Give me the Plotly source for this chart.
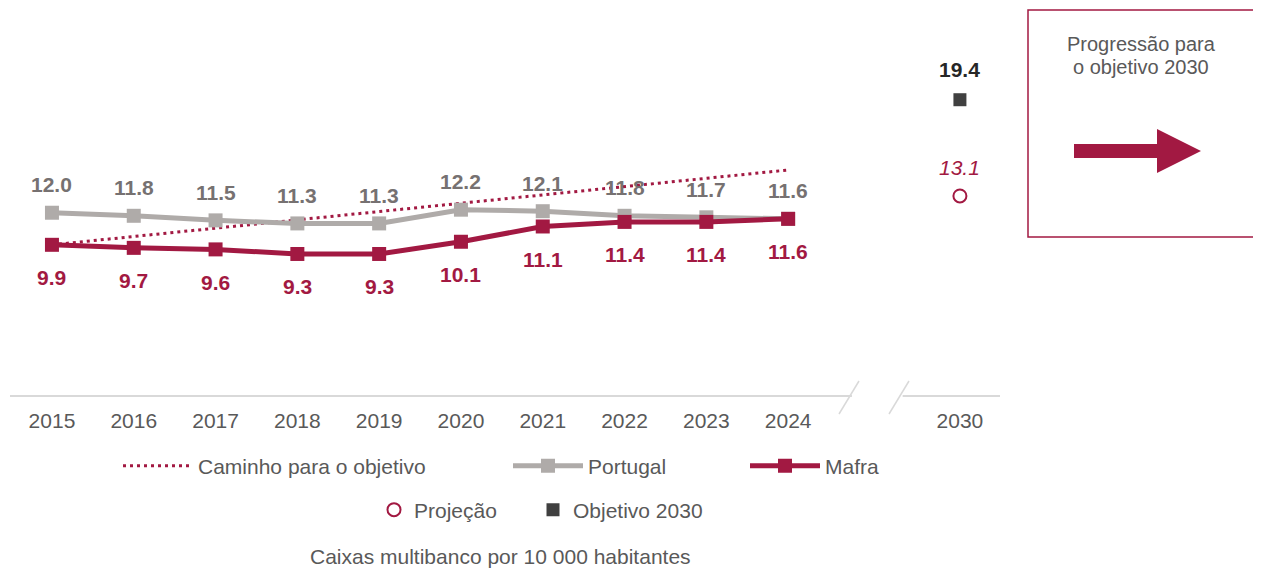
import plotly.graph_objects as go

# data
years = [2015, 2016, 2017, 2018, 2019, 2020, 2021, 2022, 2023, 2024]
portugal = [12.0, 11.8, 11.5, 11.3, 11.3, 12.2, 12.1, 11.8, 11.7, 11.6]
mafra = [9.9, 9.7, 9.6, 9.3, 9.3, 10.1, 11.1, 11.4, 11.4, 11.6]
path_years = [2015, 2024]
path_values = [9.9, 14.8]
target_year = 2030
projection = [13.1]
objective = [19.4]

CRIMSON = "#A21942"
GREY = "#AFABA9"
GREY_TXT = "#767171"
DARK = "#404040"
TXT = "#595959"
AXIS = "#D9D9D9"
FONT = "Liberation Sans, Arial, sans-serif"

# x position of each year on the (broken) axis
pos = {y: i for i, y in enumerate(years)}
pos[target_year] = 11.1
X0, X1 = -0.513, 11.59
Y0, Y1 = 0, 24.62

# the page body adds an 8px margin, so the figure is shrunk by that much
OFF = 8
W, H = 1261 - OFF, 571 - OFF
L, R, T, B = 2, 261, 12, 175


def px_x(p):
    return (p - OFF - L) / (W - L - R)


def px_y(p):
    return (H - B - (p - OFF)) / (H - T - B)


def dx(v):
    return (v - X0) / (X1 - X0)


fig = go.Figure()

fig.add_trace(go.Scatter(
    x=[pos[y] for y in path_years], y=path_values, mode="lines",
    name="Caminho para o objetivo",
    line=dict(color=CRIMSON, width=3, dash="3px,4px"),
    legend="legend", hoverinfo="skip"))

fig.add_trace(go.Scatter(
    x=[pos[y] for y in years], y=portugal, mode="lines+markers",
    name="Portugal",
    line=dict(color=GREY, width=5),
    marker=dict(symbol="square", size=14, color=GREY),
    legend="legend2"))

fig.add_trace(go.Scatter(
    x=[pos[y] for y in years], y=mafra, mode="lines+markers",
    name="Mafra",
    line=dict(color=CRIMSON, width=5),
    marker=dict(symbol="square", size=14, color=CRIMSON),
    legend="legend3"))

fig.add_trace(go.Scatter(
    x=[pos[target_year]], y=projection, mode="markers",
    name="Projeção",
    marker=dict(symbol="circle-open", size=13, color=CRIMSON, line=dict(width=2)),
    legend="legend4"))

fig.add_trace(go.Scatter(
    x=[pos[target_year]], y=objective, mode="markers",
    name="Objetivo 2030",
    marker=dict(symbol="square", size=13, color=DARK),
    legend="legend5"))

# data labels
ann = []
for y, v in zip(years, portugal):
    ann.append(dict(x=pos[y], y=v, text=f"{v:.1f}", showarrow=False, yshift=28,
                    font=dict(size=21, color=GREY_TXT, family=FONT, weight="bold")))
for y, v in zip(years, mafra):
    ann.append(dict(x=pos[y], y=v, text=f"{v:.1f}", showarrow=False, yshift=-33,
                    font=dict(size=21, color=CRIMSON, family=FONT, weight="bold")))
ann.append(dict(x=pos[target_year], y=projection[0], text=f"{projection[0]:.1f}",
                showarrow=False, yshift=28,
                font=dict(size=21, color=CRIMSON, family=FONT, style="italic")))
ann.append(dict(x=pos[target_year], y=objective[0], text=f"{objective[0]:.1f}",
                showarrow=False, yshift=30,
                font=dict(size=21, color="#262626", family=FONT, weight="bold")))

# side box text and subtitle
for txt, ypx in [("Progressão para", 44), ("o objetivo 2030", 67)]:
    ann.append(dict(xref="paper", yref="paper", x=px_x(1141), y=px_y(ypx),
                    xanchor="center", yanchor="middle", text=txt, showarrow=False,
                    font=dict(size=20, color=TXT, family=FONT)))
ann.append(dict(xref="paper", yref="paper", x=px_x(500), y=px_y(556),
                xanchor="center", yanchor="middle",
                text="Caixas multibanco por 10 000 habitantes", showarrow=False,
                font=dict(size=21, color=TXT, family=FONT)))

shapes = [
    # broken x axis line
    dict(type="line", xref="paper", yref="paper", x0=0, x1=dx(9.78), y0=0, y1=0,
         line=dict(color=AXIS, width=2), layer="below"),
    dict(type="line", xref="paper", yref="paper", x0=dx(10.40), x1=1, y0=0, y1=0,
         line=dict(color=AXIS, width=2), layer="below"),
    dict(type="line", xref="paper", yref="paper", x0=px_x(839), x1=px_x(859),
         y0=px_y(414), y1=px_y(381), line=dict(color=AXIS, width=1.5)),
    dict(type="line", xref="paper", yref="paper", x0=px_x(889), x1=px_x(909),
         y0=px_y(414), y1=px_y(381), line=dict(color=AXIS, width=1.5)),
    # side box
    dict(type="rect", xref="paper", yref="paper", x0=px_x(1028), x1=px_x(1254),
         y0=px_y(237), y1=px_y(10), line=dict(color=CRIMSON, width=1.5)),
]
arrow = [(1074, 144), (1157, 144), (1157, 129), (1201, 151), (1157, 173),
         (1157, 158), (1074, 158)]
path = "M " + " L ".join(f"{px_x(a):.5f},{px_y(b):.5f}" for a, b in arrow) + " Z"
shapes.append(dict(type="path", xref="paper", yref="paper", path=path,
                   fillcolor=CRIMSON, line=dict(width=0)))


def leg(xpx, ypx, width=30):
    return dict(x=px_x(xpx), y=px_y(ypx), xanchor="left", yanchor="middle",
                orientation="h", itemwidth=width, bgcolor="rgba(0,0,0,0)",
                font=dict(size=21, color=TXT, family=FONT))


fig.update_layout(
    width=W, height=H,
    margin=dict(l=L, r=R, t=T, b=B, autoexpand=False),
    paper_bgcolor="white", plot_bgcolor="white",
    showlegend=True,
    legend=leg(118, 466, 70),
    legend2=leg(508, 466, 70),
    legend3=leg(745, 466, 70),
    legend4=leg(374, 510),
    legend5=leg(533, 510),
    annotations=ann,
    shapes=shapes,
    xaxis=dict(range=[X0, X1], showgrid=False, zeroline=False, showline=False,
               tickvals=[pos[y] for y in years + [target_year]],
               ticktext=[str(y) for y in years + [target_year]],
               tickfont=dict(size=21, color=TXT, family=FONT), ticks="",
               ticklabelstandoff=10),
    yaxis=dict(range=[Y0, Y1], visible=False),
    font=dict(family=FONT),
)

fig.write_html("out.html")
